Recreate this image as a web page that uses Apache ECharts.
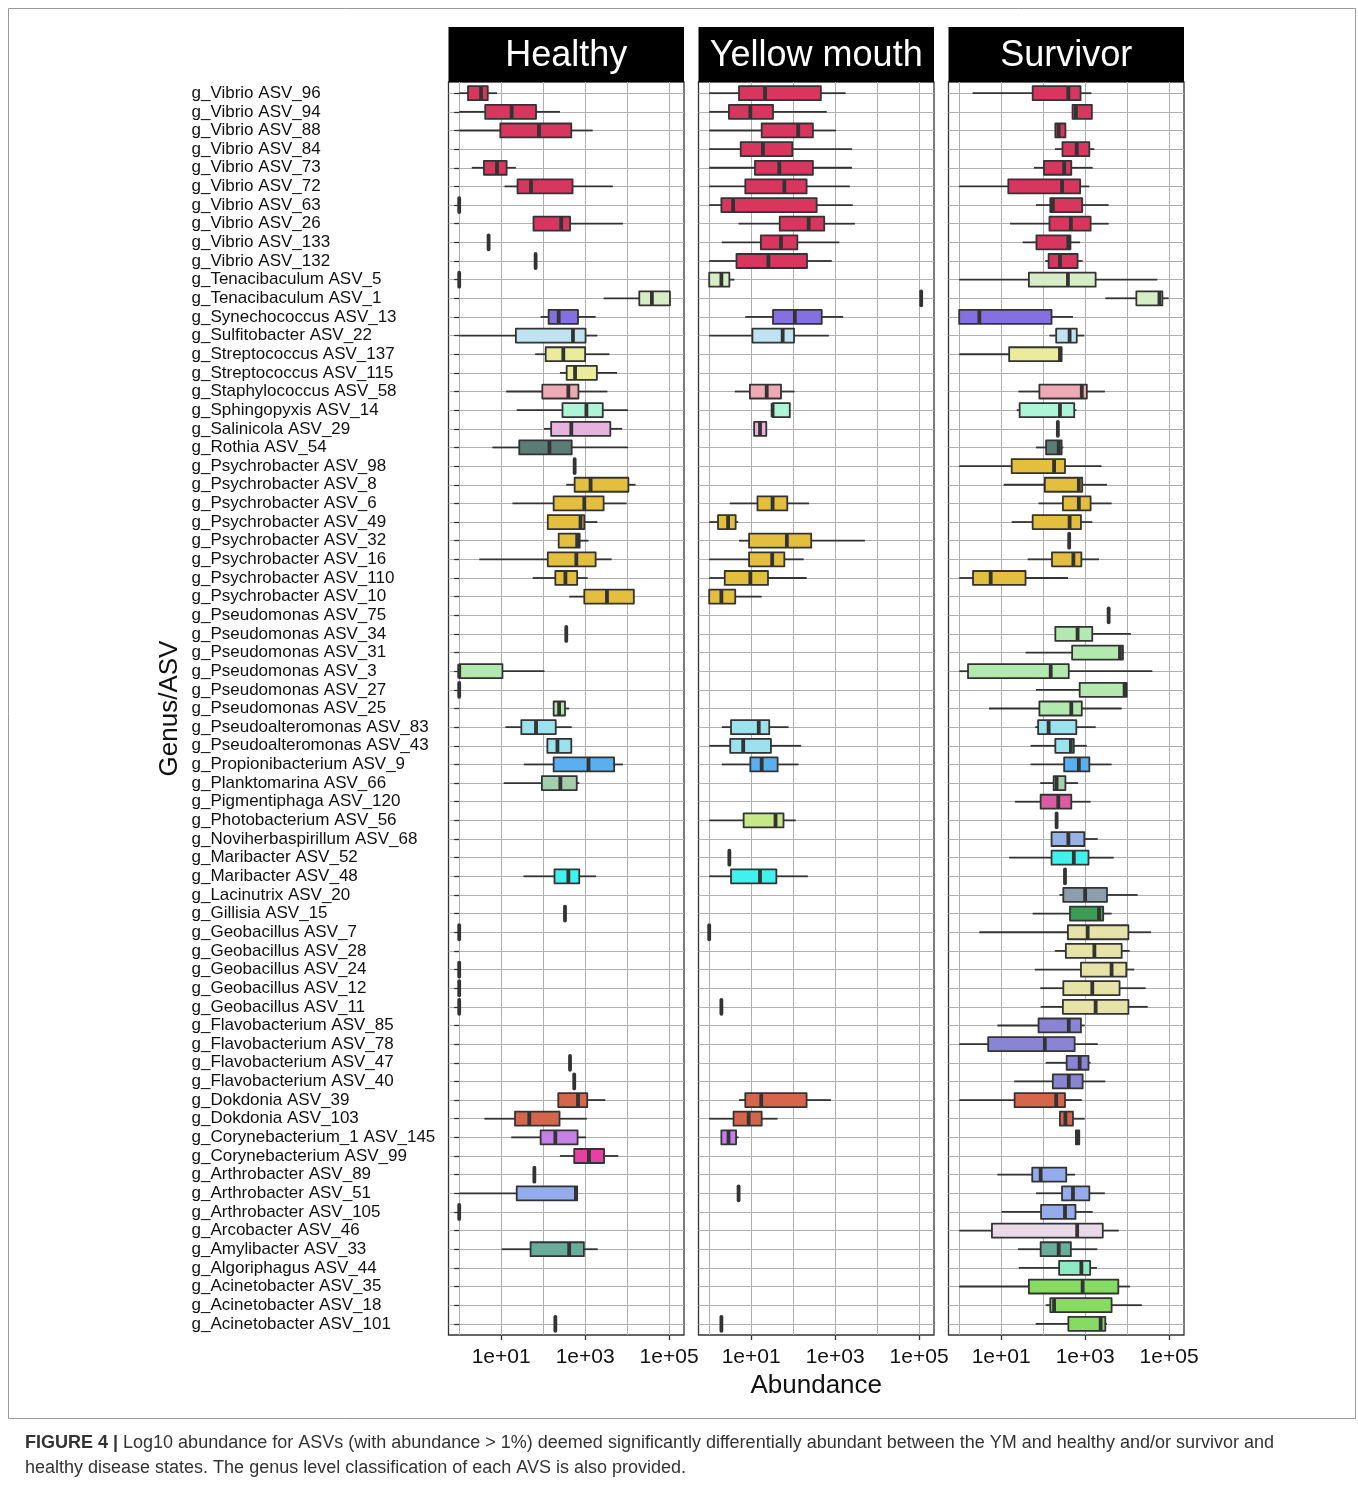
<!DOCTYPE html>
<html><head><meta charset="utf-8">
<script src="https://cdn.jsdelivr.net/npm/echarts@6/dist/echarts.min.js"></script>
<style>html,body{margin:0;padding:0;background:#fff}#c{width:1358px;height:1485px}</style>
</head><body><div id="c"></div>
<script>
// Categories, top to bottom
const categories = [
'g_Vibrio ASV_96','g_Vibrio ASV_94','g_Vibrio ASV_88','g_Vibrio ASV_84','g_Vibrio ASV_73','g_Vibrio ASV_72','g_Vibrio ASV_63','g_Vibrio ASV_26','g_Vibrio ASV_133','g_Vibrio ASV_132',
'g_Tenacibaculum ASV_5','g_Tenacibaculum ASV_1','g_Synechococcus ASV_13','g_Sulfitobacter ASV_22','g_Streptococcus ASV_137','g_Streptococcus ASV_115','g_Staphylococcus ASV_58','g_Sphingopyxis ASV_14','g_Salinicola ASV_29','g_Rothia ASV_54',
'g_Psychrobacter ASV_98','g_Psychrobacter ASV_8','g_Psychrobacter ASV_6','g_Psychrobacter ASV_49','g_Psychrobacter ASV_32','g_Psychrobacter ASV_16','g_Psychrobacter ASV_110','g_Psychrobacter ASV_10',
'g_Pseudomonas ASV_75','g_Pseudomonas ASV_34','g_Pseudomonas ASV_31','g_Pseudomonas ASV_3','g_Pseudomonas ASV_27','g_Pseudomonas ASV_25',
'g_Pseudoalteromonas ASV_83','g_Pseudoalteromonas ASV_43','g_Propionibacterium ASV_9','g_Planktomarina ASV_66','g_Pigmentiphaga ASV_120','g_Photobacterium ASV_56','g_Noviherbaspirillum ASV_68',
'g_Maribacter ASV_52','g_Maribacter ASV_48','g_Lacinutrix ASV_20','g_Gillisia ASV_15',
'g_Geobacillus ASV_7','g_Geobacillus ASV_28','g_Geobacillus ASV_24','g_Geobacillus ASV_12','g_Geobacillus ASV_11',
'g_Flavobacterium ASV_85','g_Flavobacterium ASV_78','g_Flavobacterium ASV_47','g_Flavobacterium ASV_40',
'g_Dokdonia ASV_39','g_Dokdonia ASV_103','g_Corynebacterium_1 ASV_145','g_Corynebacterium ASV_99',
'g_Arthrobacter ASV_89','g_Arthrobacter ASV_51','g_Arthrobacter ASV_105','g_Arcobacter ASV_46','g_Amylibacter ASV_33','g_Algoriphagus ASV_44',
'g_Acinetobacter ASV_35','g_Acinetobacter ASV_18','g_Acinetobacter ASV_101'
];
const panelNames = ['Healthy','Yellow mouth','Survivor'];
const tickValues = [1, 3, 5];
const tickLabels = ['1e+01', '1e+03', '1e+05'];
const gridValues = [0, 1, 2, 3, 4, 5];

const genera = ['g_Vibrio','g_Tenacibaculum','g_Synechococcus','g_Sulfitobacter','g_Streptococcus','g_Staphylococcus','g_Sphingopyxis','g_Salinicola','g_Rothia','g_Psychrobacter','g_Pseudomonas','g_Pseudoalteromonas','g_Propionibacterium','g_Planktomarina','g_Pigmentiphaga','g_Photobacterium','g_Noviherbaspirillum','g_Maribacter','g_Lacinutrix','g_Gillisia','g_Geobacillus','g_Flavobacterium','g_Dokdonia','g_Corynebacterium_1','g_Corynebacterium','g_Arthrobacter','g_Arcobacter','g_Amylibacter','g_Algoriphagus','g_Acinetobacter'];
const genusColors = ['#D9365F','#D7EDC5','#8470E0','#C0E3F1','#EBEB9C','#EEAAB4','#ACF5D6','#E8B2DF','#5B7D74','#E3BF3D','#B3E9AE','#9AE2EE','#5AAFEF','#A4CFAF','#DC5CA0','#C6E888','#98B2E3','#3FF2EE','#8C9EAC','#3B9C53','#E6E3A9','#8A84D5','#D5664B','#C580E8','#E640A4','#94ACEB','#E9D9E9','#67AD98','#8CEBC2','#86DC63'];

// log10(abundance): [whisker low, Q1, median, Q3, whisker high]; null = absent
const healthy = [
[0,0.21,0.52,0.68,0.90],[0,0.62,1.25,1.83,2.40],[0,0.98,1.90,2.67,3.18],null,[0.30,0.59,0.90,1.13,1.35],
[1.08,1.39,1.71,2.70,3.66],[0,0,0,0,0],[1.77,1.77,2.43,2.64,3.90],[0.70,0.70,0.70,0.70,0.70],[1.82,1.82,1.82,1.82,1.82],
[0,0,0,0,0],[3.44,4.29,4.59,5.02,5.02],[1.94,2.13,2.37,2.83,3.25],[0,1.35,2.71,3.01,3.29],[1.81,2.06,2.48,3.00,3.58],
[2.40,2.56,2.76,3.28,3.76],[1.12,1.98,2.60,2.84,3.53],[1.37,2.46,3.03,3.42,4.02],[2.02,2.19,2.67,3.60,3.88],[0.79,1.43,2.15,2.68,4.02],
[2.75,2.75,2.75,2.75,2.75],[2.55,2.75,3.13,4.03,4.20],[1.27,2.25,2.98,3.44,3.99],[2.11,2.11,2.89,2.98,3.29],[2.37,2.37,2.81,2.87,3.08],
[0.48,2.11,2.79,3.25,3.63],[1.75,2.29,2.53,2.81,3.06],[2.62,2.98,3.52,4.16,4.16],null,[2.55,2.55,2.55,2.55,2.55],
null,[0,0,0,1.03,2.03],[0,0,0,0,0],[2.25,2.25,2.38,2.52,2.62],[1.10,1.48,1.83,2.30,2.68],
[2.10,2.10,2.34,2.67,2.68],[1.54,2.25,3.08,3.69,3.90],[1.06,1.97,2.41,2.80,2.86],null,null,
null,null,[1.53,2.27,2.60,2.86,3.26],null,[2.52,2.52,2.52,2.52,2.52],
[0,0,0,0,0],null,[0,0,0,0,0],[0,0,0,0,0],[0,0,0,0,0],
null,null,[2.64,2.64,2.64,2.64,2.64],[2.74,2.74,2.74,2.74,2.74],[2.36,2.36,2.83,3.05,3.48],
[0.60,1.33,1.67,2.39,3.04],[1.24,1.94,2.29,2.82,3.02],[2.40,2.74,3.09,3.45,3.79],[1.79,1.79,1.79,1.79,1.79],[0,1.37,2.78,2.81,2.81],
[0,0,0,0,0],null,[1.01,1.70,2.62,2.97,3.30],null,null,
null,[2.29,2.29,2.29,2.29,2.29]
];
const yellowMouth = [
[0,0.71,1.33,2.66,3.25],[0,0.47,0.98,1.52,2.80],[0,1.25,2.12,2.47,3.02],[0,0.75,1.28,1.98,3.40],[0,1.09,1.67,2.47,3.40],
[0,0.86,1.79,2.32,3.35],[0,0.29,0.57,2.56,3.42],[0.70,1.68,2.37,2.74,3.47],[0.30,1.23,1.71,2.10,3.10],[0,0.65,1.41,2.33,2.92],
[0,0,0.29,0.48,0.60],[5.05,5.05,5.05,5.05,5.05],[0.86,1.52,2.04,2.68,3.19],[0,1.03,1.75,2.02,2.85],null,
null,[0.61,0.97,1.37,1.71,2.03],[1.51,1.51,1.51,1.92,1.92],[1.07,1.07,1.21,1.36,1.36],null,
null,null,[0.49,1.15,1.51,1.86,2.38],[0,0.21,0.45,0.63,0.69],[0.71,0.95,1.85,2.43,3.71],
[0,0.95,1.50,1.79,2.25],[0,0.37,0.98,1.40,2.32],[0,0,0.29,0.62,1.25],null,null,
null,null,null,null,[0.30,0.52,1.18,1.43,1.89],
[0,0.50,0.81,1.47,2.19],[0.30,0.98,1.25,1.63,2.13],null,null,[0,0.82,1.58,1.77,2.06],
null,[0.48,0.48,0.48,0.48,0.48],[0,0.52,1.21,1.60,2.35],null,null,
[0,0,0,0,0],null,null,null,[0.29,0.29,0.29,0.29,0.29],
null,null,null,null,[0.71,0.86,1.24,2.32,2.90],
[0,0.58,0.94,1.25,1.63],[0.29,0.29,0.46,0.64,0.70],null,null,[0.70,0.70,0.70,0.70,0.70],
null,null,null,null,null,
null,[0.29,0.29,0.29,0.29,0.29]
];
const survivor = [
[0.32,1.75,2.60,2.89,3.15],[2.70,2.70,2.78,3.16,3.16],[2.29,2.29,2.37,2.53,2.55],[2.28,2.46,2.80,3.10,3.22],[1.78,2.02,2.50,2.67,3.18],
[0,1.17,2.45,2.88,3.10],[1.83,2.17,2.23,2.93,3.56],[1.21,2.15,2.66,3.13,3.56],[1.51,1.84,2.60,2.65,2.88],[2.05,2.13,2.40,2.82,2.94],
[0,1.66,2.59,3.25,4.72],[3.48,4.22,4.77,4.84,4.99],[0,0,0.48,2.20,2.71],[2.15,2.31,2.63,2.80,2.98],[0,1.19,2.40,2.44,2.44],
null,[1.41,1.91,2.92,3.04,3.47],[1.37,1.44,2.40,2.74,2.79],[2.35,2.35,2.35,2.35,2.35],[1.83,2.07,2.37,2.44,2.48],
[0,1.25,2.26,2.52,3.39],[1.06,2.04,2.85,2.93,3.52],[1.89,2.47,2.85,3.13,3.63],[1.25,1.75,2.63,2.90,3.17],[2.62,2.62,2.62,2.62,2.62],
[1.63,2.21,2.72,2.91,3.33],[0,0.33,0.75,1.58,2.59],null,[3.56,3.56,3.56,3.56,3.56],[2.29,2.29,2.82,3.17,4.09],
[1.58,2.69,3.83,3.90,3.93],[0,0.21,2.18,2.61,4.60],[1.83,2.87,3.94,3.99,3.99],[0.71,1.91,2.67,2.92,3.87],[1.81,1.88,2.13,2.79,3.25],
[1.70,2.29,2.66,2.73,3.04],[1.70,2.50,2.85,3.10,3.63],[1.93,2.25,2.32,2.53,2.83],[1.33,1.94,2.36,2.67,3.13],[2.32,2.32,2.32,2.32,2.32],
[2.20,2.20,2.60,2.98,3.30],[1.19,2.20,2.73,3.08,3.68],[2.52,2.52,2.52,2.52,2.52],[2.39,2.48,3.00,3.52,4.25],[1.75,2.64,3.33,3.43,3.63],
[0.48,2.59,3.06,4.03,4.57],[2.28,2.54,3.22,3.87,4.06],[1.80,2.90,3.63,3.98,4.17],[1.93,2.48,3.17,3.82,4.44],[1.94,2.47,3.25,4.03,4.49],
[0.91,1.89,2.61,2.90,2.99],[0,0.69,2.04,2.75,3.30],[2.06,2.56,2.87,3.08,3.13],[1.31,2.23,2.61,2.94,3.48],[0,1.32,2.31,2.52,2.92],
[2.40,2.40,2.53,2.71,2.99],[2.78,2.78,2.82,2.86,2.86],null,[0.91,1.74,1.94,2.55,2.76],[1.83,2.45,2.71,3.10,3.47],
[1.01,1.95,2.52,2.77,3.18],[0,0.78,2.81,3.42,3.80],[1.40,1.94,2.37,2.66,3.29],[1.42,2.38,2.91,3.12,3.28],[0,1.66,2.94,3.79,4.07],
[2.06,2.17,2.26,3.63,4.35],[1.82,2.60,3.37,3.48,3.52]
];
const panelData = [healthy, yellowMouth, survivor];

const FONT = 'Liberation Sans, Arial, Helvetica, sans-serif';
const INK = '#333333';
const gridLeft = [448.5, 698.5, 948.5];
const gridTop = 82, gridW = 235.5, gridH = 1253;
const rowIdx = categories.map((c, i) => i);

function fillOf(idx) {
  const name = categories[idx];
  const genus = name.slice(0, name.indexOf(' ASV'));
  return genusColors[genera.indexOf(genus)];
}

function renderItem(params, api) {
  const y = api.value(0);
  const lo = api.coord([api.value(1), y]);
  const q1 = api.coord([api.value(2), y]);
  const md = api.coord([api.value(3), y]);
  const q3 = api.coord([api.value(4), y]);
  const hi = api.coord([api.value(5), y]);
  const h = api.size([0, 1])[1] * 0.75;
  const cy = md[1];
  const children = [];
  const ls = {stroke: INK, lineWidth: 1.8};
  if (q1[0] - lo[0] > 0.5) children.push({type: 'line', shape: {x1: lo[0], y1: cy, x2: q1[0], y2: cy}, style: ls});
  if (hi[0] - q3[0] > 0.5) children.push({type: 'line', shape: {x1: q3[0], y1: cy, x2: hi[0], y2: cy}, style: ls});
  children.push({type: 'rect', shape: {x: q1[0], y: cy - h / 2, width: q3[0] - q1[0], height: h},
    style: {fill: fillOf(y), stroke: INK, lineWidth: 1.8, lineJoin: 'round'}});
  children.push({type: 'line', shape: {x1: md[0], y1: cy - h / 2, x2: md[0], y2: cy + h / 2},
    style: {stroke: INK, lineWidth: 3.8, lineCap: (q3[0] - q1[0] < 1) ? 'round' : 'butt'}});
  return {type: 'group', children};
}

const grids = [], xAxes = [], yAxes = [], series = [], graphics = [];
for (let p = 0; p < 3; p++) {
  grids.push({left: gridLeft[p], top: gridTop, width: gridW, height: gridH,
    show: true, borderColor: INK, borderWidth: 1.3, backgroundColor: '#fff'});
  // gridline axis
  xAxes.push({type: 'value', gridIndex: p, min: -0.255, max: 5.355,
    axisLine: {show: false},
    axisTick: {show: false, customValues: gridValues},
    axisLabel: {show: false, customValues: gridValues},
    splitLine: {show: true, lineStyle: {color: '#b0b0b0', width: 1}}
  });
  // tick label axis
  xAxes.push({type: 'value', gridIndex: p, min: -0.255, max: 5.355, position: 'bottom',
    axisLine: {show: false},
    axisTick: {show: true, length: 5, customValues: tickValues, lineStyle: {color: INK, width: 1.3}},
    axisLabel: {show: true, customValues: tickValues, margin: 12, color: '#111', fontSize: 21, fontFamily: FONT,
      formatter: v => tickLabels[tickValues.indexOf(Math.round(v))]},
    splitLine: {show: false},
    name: p === 1 ? 'Abundance' : '', nameLocation: 'middle', nameGap: 38,
    nameTextStyle: {fontSize: 26, color: '#111', fontFamily: FONT}
  });
  yAxes.push({type: 'value', gridIndex: p, min: -0.6, max: categories.length - 0.4, inverse: true,
    axisLine: {show: false},
    axisTick: {show: p === 0, length: 5, customValues: rowIdx, lineStyle: {color: INK, width: 1.3}},
    axisLabel: {show: p === 0, customValues: rowIdx, align: 'left', margin: 257, color: '#111', fontSize: 17, fontFamily: FONT,
      formatter: v => categories[Math.round(v)]},
    splitLine: {show: true, lineStyle: {color: '#b0b0b0', width: 1}},
    name: p === 0 ? 'Genus/ASV' : '', nameLocation: 'middle', nameRotate: 90, nameGap: 266,
    nameTextStyle: {fontSize: 26, color: '#111', fontFamily: FONT}
  });
  const data = [];
  panelData[p].forEach((d, i) => { if (d) data.push([i, d[0], d[1], d[2], d[3], d[4]]); });
  series.push({type: 'custom', xAxisIndex: p * 2, yAxisIndex: p, renderItem,
    encode: {x: [1, 2, 3, 4, 5], y: 0}, data, clip: false, silent: true});
  graphics.push({type: 'rect', shape: {x: gridLeft[p], y: 27, width: gridW, height: gridTop - 27},
    style: {fill: '#000'}});
  graphics.push({type: 'text', x: gridLeft[p] + gridW / 2, y: 56,
    style: {text: panelNames[p], fill: '#fff', font: '36px ' + FONT, align: 'center', verticalAlign: 'middle'}});
}
graphics.push({type: 'rect', shape: {x: 8.5, y: 8.5, width: 1347, height: 1410}, style: {fill: 'none', stroke: '#9a9a9a', lineWidth: 1}, z: -10});
graphics.push({type: 'text', x: 25, y: 1443,
  style: {text: '{b|FIGURE 4 |} Log10 abundance for ASVs (with abundance > 1%) deemed significantly differentially abundant between the YM and healthy and/or survivor and',
    verticalAlign: 'middle', fill: '#333', font: '18px ' + FONT,
    rich: {b: {fontWeight: 'bold', fontSize: 18, fontFamily: FONT, fill: '#333'}}}});
graphics.push({type: 'text', x: 25, y: 1468,
  style: {text: 'healthy disease states. The genus level classification of each AVS is also provided.',
    verticalAlign: 'middle', fill: '#333', font: '18px ' + FONT}});

const chart = echarts.init(document.getElementById('c'), null, {renderer: 'canvas'});
chart.setOption({
  animation: false, backgroundColor: '#fff',
  grid: grids, xAxis: xAxes, yAxis: yAxes, series, graphic: graphics
});
</script></body></html>
